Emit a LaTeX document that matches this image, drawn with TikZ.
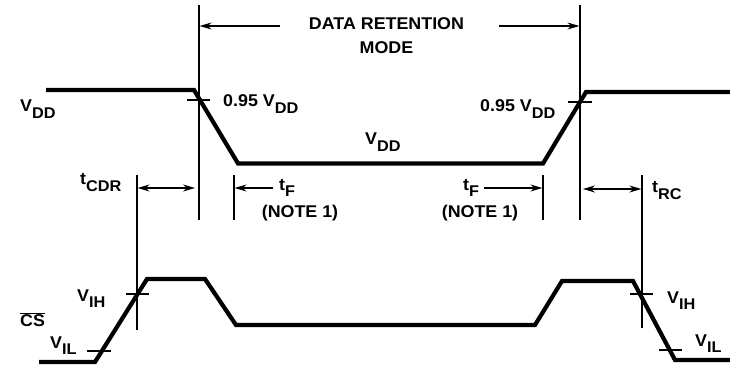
\documentclass[tikz,border=0pt]{standalone}
\usepackage{fontspec}
\setmainfont{Liberation Sans}[FakeStretch=1.05]
\usetikzlibrary{arrows.meta}
\newcommand{\sbs}[1]{\raisebox{-6.5pt}{\fontsize{15.5}{15.5}\selectfont #1}}
\begin{document}
\begin{tikzpicture}[x=1pt,y=-1pt,
  lbl/.style={inner sep=0pt,font=\fontsize{17}{18}\selectfont\bfseries},
  wave/.style={line width=4.2pt,line join=miter},
  thin/.style={line width=1.1pt},
  tick/.style={line width=1.1pt},
  arr/.style={line width=1.1pt,-{Stealth[length=12pt,width=7pt,inset=4pt]}},
  darr/.style={line width=1.1pt,{Stealth[length=12pt,width=7pt,inset=4pt]}-{Stealth[length=12pt,width=7pt,inset=4pt]}}]
\useasboundingbox (0,0) rectangle (730,366);
% vertical reference lines
\coordinate (L1t) at (199,5);  \coordinate (L1b) at (199,220);
\coordinate (L2t) at (580,5);  \coordinate (L2b) at (580,220);
\coordinate (Ct) at (137,175); \coordinate (Cb) at (137,330);
\coordinate (F1t) at (234,175); \coordinate (F1b) at (234,220);
\coordinate (F2t) at (543,175); \coordinate (F2b) at (543,220);
\coordinate (Rt) at (642,175); \coordinate (Rb) at (642,328);
\draw[thin] (L1t) -- (L1b);
\draw[thin] (L2t) -- (L2b);
\draw[thin] (Ct) -- (Cb);
\draw[thin] (F1t) -- (F1b);
\draw[thin] (F2t) -- (F2b);
\draw[thin] (Rt) -- (Rb);
% arrows
\coordinate (A1s) at (280,26); \coordinate (A1e) at (199.6,26);
\coordinate (A2s) at (499,26); \coordinate (A2e) at (579.4,26);
\draw[arr] (A1s) -- (A1e);
\draw[arr] (A2s) -- (A2e);
\coordinate (C1) at (137.6,188); \coordinate (C2) at (195,188);
\draw[darr] (C1) -- (C2);
\coordinate (F1s) at (273,188); \coordinate (F1e) at (234.6,188);
\draw[arr] (F1s) -- (F1e);
\coordinate (F2s) at (484,188); \coordinate (F2e) at (542.4,188);
\draw[arr] (F2s) -- (F2e);
\coordinate (R1) at (583,189); \coordinate (R2) at (641.4,189);
\draw[darr] (R1) -- (R2);
% VDD waveform
\coordinate (v0) at (46,90); \coordinate (v1) at (194,90);
\coordinate (v2) at (238,163.5); \coordinate (v3) at (543,163.5);
\coordinate (v4) at (586,92); \coordinate (v5) at (730,92);
\draw[wave] (v0) -- (v1) -- (v2) -- (v3) -- (v4) -- (v5);
% CS waveform
\coordinate (c0) at (39,362); \coordinate (c1) at (95,362);
\coordinate (c2) at (147,279); \coordinate (c3) at (205,279);
\coordinate (c4) at (236,325); \coordinate (c5) at (535,325);
\coordinate (c6) at (562,281); \coordinate (c7) at (633,281);
\coordinate (c8) at (675,360); \coordinate (c9) at (730,360);
\draw[wave] (c0) -- (c1) -- (c2) -- (c3) -- (c4) -- (c5) -- (c6) -- (c7) -- (c8) -- (c9);
% ticks
\coordinate (t1a) at (187,100); \coordinate (t1b) at (210,100);
\coordinate (t2a) at (568,102); \coordinate (t2b) at (592,102);
\coordinate (t3a) at (126,294); \coordinate (t3b) at (149,294);
\coordinate (t4a) at (87,351);  \coordinate (t4b) at (111,351);
\coordinate (t5a) at (630,294); \coordinate (t5b) at (653,294);
\coordinate (t6a) at (659,350); \coordinate (t6b) at (682,350);
\draw[tick] (t1a) -- (t1b);
\draw[tick] (t2a) -- (t2b);
\draw[tick] (t3a) -- (t3b);
\draw[tick] (t4a) -- (t4b);
\draw[tick] (t5a) -- (t5b);
\draw[tick] (t6a) -- (t6b);
% labels
\node[lbl,anchor=base] (drm1) at (386.5,29.5) {DATA RETENTION};
\node[lbl,anchor=base] (drm2) at (386.5,54) {MODE};
\node[lbl,anchor=base west] (vdd1) at (20,112) {V\sbs{DD}};
\node[lbl,anchor=base west] (v95a) at (223,107) {0.95 V\sbs{DD}};
\node[lbl,anchor=base west] (v95b) at (480,112) {0.95 V\sbs{DD}};
\node[lbl,anchor=base west] (vdd2) at (365,145) {V\sbs{DD}};
\node[lbl,anchor=base west] (tcdr) at (80,185) {t\sbs{CDR}};
\node[lbl,anchor=base west] (tf1) at (279,190) {t\sbs{F}};
\node[lbl,anchor=base] (n1) at (300,217) {(NOTE 1)};
\node[lbl,anchor=base west] (tf2) at (463,190) {t\sbs{F}};
\node[lbl,anchor=base] (n2) at (480,217) {(NOTE 1)};
\node[lbl,anchor=base west] (trc) at (652,193) {t\sbs{RC}};
\node[lbl,anchor=base west] (vih1) at (77,301) {V\sbs{IH}};
\node[lbl,anchor=base west] (cs) at (20,326) {$\overline{\mbox{CS}}$};
\node[lbl,anchor=base west] (vil1) at (50,348) {V\sbs{IL}};
\node[lbl,anchor=base west] (vih2) at (667,303) {V\sbs{IH}};
\node[lbl,anchor=base west] (vil2) at (695,346) {V\sbs{IL}};
\end{tikzpicture}
\end{document}
